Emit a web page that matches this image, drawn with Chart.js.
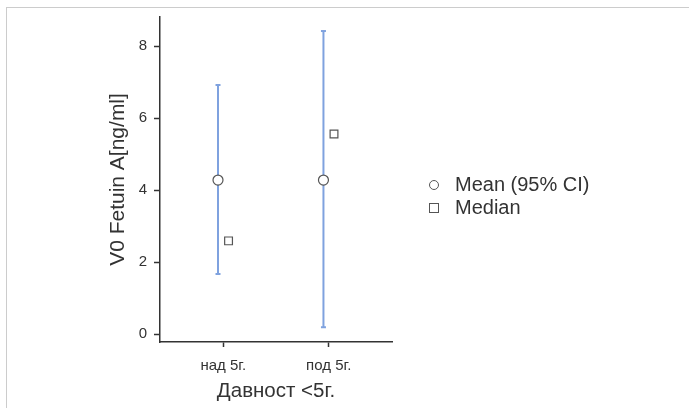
<!DOCTYPE html>
<html>
<head>
<meta charset="utf-8">
<script src="https://cdn.jsdelivr.net/npm/chart.js@4/dist/chart.umd.min.js"></script>
<style>
  body { margin: 0; background: #fff; overflow: hidden; }
  #frame { position: absolute; left: 6px; top: 7px; width: 720px; height: 440px; border: 1px solid #cccccc; }
  #wrap { position: absolute; left: 0; top: 0; width: 689px; height: 408px; }
  #legend { position: absolute; left: 426px; top: 173px; font-family: "Liberation Sans", Arial, sans-serif; font-size: 20px; color: #333; }
  .item { position: relative; height: 23px; line-height: 23px; padding-left: 29px; white-space: nowrap; }
  .mark { position: absolute; left: 3px; top: 7px; width: 8px; height: 8px; border: 1px solid #555; background: #fff; }
  .mark.circle { border-radius: 50%; }
</style>
</head>
<body>
<div id="frame"></div>
<div id="wrap"><canvas id="chart" width="689" height="408"></canvas></div>
<div id="legend">
  <div class="item"><span class="mark circle"></span>Mean (95% CI)</div>
  <div class="item"><span class="mark"></span>Median</div>
</div>
<script>
// Values
const groups = ['над 5г.', 'под 5г.'];
const means = [4.28, 4.28];
const ciLower = [1.67, 0.19];
const ciUpper = [6.92, 8.42];
const medians = [2.59, 5.56];
const yTicks = [0, 2, 4, 6, 8];

const barColor = '#7fa2df';
const markColor = '#555555';
const dodge = 0.05;
const fontFamily = '"Liberation Sans", Arial, sans-serif';

// one line dataset per group for the CI bar, caps drawn as 'line' points
const errorBars = groups.map((g, i) => ({
    type: 'line',
    data: [{ x: i + 1 - dodge, y: ciLower[i] }, { x: i + 1 - dodge, y: ciUpper[i] }],
    borderColor: barColor,
    borderWidth: 2,
    pointStyle: 'line',
    pointRadius: 2.5,
    pointBorderColor: barColor,
    pointBorderWidth: 2,
    order: 2
}));

const ctx = document.getElementById('chart');
new Chart(ctx, {
    type: 'scatter',
    data: {
        datasets: [
            {
                label: 'Mean (95% CI)',
                data: means.map((v, i) => ({ x: i + 1 - dodge, y: v })),
                pointStyle: 'circle',
                pointRadius: 5,
                backgroundColor: '#ffffff',
                borderColor: markColor,
                borderWidth: 1.2,
                order: 0
            },
            {
                label: 'Median',
                data: medians.map((v, i) => ({ x: i + 1 + dodge, y: v })),
                pointStyle: 'rect',
                pointRadius: 5.5,
                backgroundColor: '#ffffff',
                borderColor: markColor,
                borderWidth: 1.2,
                order: 0
            },
            ...errorBars
        ]
    },
    options: {
        responsive: false,
        animation: false,
        layout: { padding: { left: 100, top: 17, right: 297, bottom: 0 } },
        plugins: {
            legend: { display: false },
            tooltip: { enabled: false }
        },
        scales: {
            x: {
                type: 'linear',
                min: 0.4,
                max: 2.6,
                afterBuildTicks: (scale) => { scale.ticks = groups.map((g, i) => ({ value: i + 1 })); },
                afterFit: (scale) => { scale.height = 66; },
                ticks: {
                    callback: (value) => groups[value - 1],
                    color: '#333',
                    padding: 10,
                    font: { family: fontFamily, size: 15 }
                },
                grid: { drawOnChartArea: false, tickLength: 5, tickColor: '#333', tickWidth: 1.5 },
                border: { display: true, color: '#333', width: 1.5 },
                title: {
                    display: true,
                    text: 'Давност <5г.',
                    color: '#333',
                    padding: { top: 0, bottom: 4 },
                    font: { family: fontFamily, size: 20.5 }
                }
            },
            y: {
                min: -0.22,
                max: 8.81,
                afterBuildTicks: (scale) => { scale.ticks = yTicks.map(v => ({ value: v })); },
                afterFit: (scale) => { scale.width = 60; },
                ticks: {
                    color: '#333',
                    padding: 7,
                    font: { family: fontFamily, size: 15 }
                },
                grid: { drawOnChartArea: false, tickLength: 6, tickColor: '#333', tickWidth: 1.5 },
                border: { display: true, color: '#333', width: 1.5 },
                title: {
                    display: true,
                    text: 'V0 Fetuin A[ng/ml]',
                    color: '#333',
                    padding: { top: 6, bottom: 0 },
                    font: { family: fontFamily, size: 21 }
                }
            }
        }
    }
});
</script>
</body>
</html>
